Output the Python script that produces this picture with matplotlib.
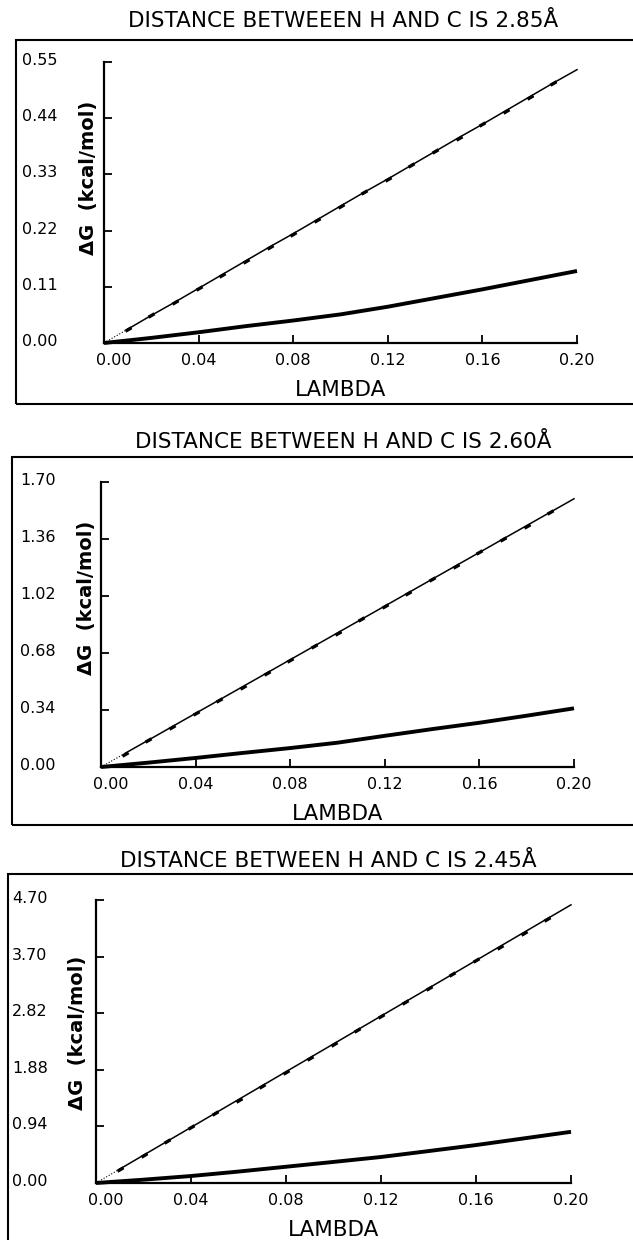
import math

import matplotlib.pyplot as plt
import matplotlib.transforms as mtransforms
from matplotlib.patches import Rectangle

plt.rcParams['font.family'] = ['DejaVu Sans']

# lambda grid of the upper (marked) curves, step 0.01
lam_fine = [0.00, 0.01, 0.02, 0.03, 0.04, 0.05, 0.06, 0.07, 0.08, 0.09, 0.10,
            0.11, 0.12, 0.13, 0.14, 0.15, 0.16, 0.17, 0.18, 0.19, 0.20]
# lambda grid of the lower (thick) curves
lam_coarse = [0.00, 0.02, 0.04, 0.06, 0.08, 0.10, 0.12, 0.14, 0.16, 0.18, 0.20]

titles = ["DISTANCE BETWEEEN H AND C IS 2.85Å",
          "DISTANCE BETWEEN H AND C IS 2.60Å",
          "DISTANCE BETWEEN H AND C IS 2.45Å"]

upper_285 = [0.000, 0.027, 0.054, 0.080, 0.107, 0.134, 0.161, 0.188, 0.214, 0.241, 0.268,
             0.295, 0.321, 0.348, 0.375, 0.402, 0.428, 0.455, 0.482, 0.509, 0.535]
lower_285 = [0.000, 0.010, 0.021, 0.033, 0.044, 0.056, 0.071, 0.088, 0.105, 0.123, 0.141]

upper_260 = [0.00, 0.08, 0.16, 0.24, 0.32, 0.40, 0.48, 0.56, 0.64, 0.72, 0.80,
             0.88, 0.96, 1.04, 1.12, 1.20, 1.28, 1.36, 1.44, 1.52, 1.60]
lower_260 = [0.000, 0.026, 0.054, 0.084, 0.113, 0.145, 0.186, 0.226, 0.264, 0.306, 0.350]

upper_245 = [0.000, 0.231, 0.462, 0.693, 0.924, 1.155, 1.386, 1.617, 1.848, 2.079, 2.310,
             2.541, 2.772, 3.003, 3.234, 3.465, 3.696, 3.927, 4.158, 4.389, 4.620]
lower_245 = [0.000, 0.055, 0.116, 0.190, 0.270, 0.350, 0.432, 0.530, 0.630, 0.740, 0.850]

xticks = [0.00, 0.04, 0.08, 0.12, 0.16, 0.20]
xticklabels = ["0.00", "0.04", "0.08", "0.12", "0.16", "0.20"]

yticks_285 = [0.00, 0.11, 0.22, 0.33, 0.44, 0.55]
ylabels_285 = ["0.00", "0.11", "0.22", "0.33", "0.44", "0.55"]
yticks_260 = [0.00, 0.34, 0.68, 1.02, 1.36, 1.70]
ylabels_260 = ["0.00", "0.34", "0.68", "1.02", "1.36", "1.70"]
yticks_245 = [0.00, 0.94, 1.88, 2.82, 3.76, 4.70]
ylabels_245 = ["0.00", "0.94", "1.88", "2.82", "3.70", "4.70"]

W, H = 633, 1240
fig = plt.figure(figsize=(W / 100, H / 100), dpi=100)

# pixel layout of each panel: axes box, outer frame, title, y-label
panels = [
    dict(ax=(104, 62, 577, 343), frame=(16, 40, 640, 404), title=(343, 21),
         ylab=(-0.032, 0.587), ypad=82, up=upper_285, lo=lower_285,
         yt=yticks_285, yl=ylabels_285),
    dict(ax=(101, 482, 574, 767), frame=(12, 457, 640, 825), title=(343, 442),
         ylab=(-0.030, 0.593), ypad=81, up=upper_260, lo=lower_260,
         yt=yticks_260, yl=ylabels_260),
    dict(ax=(96, 900, 571, 1183), frame=(8, 874, 640, 1250), title=(328, 861),
         ylab=(-0.038, 0.530), ypad=84, up=upper_245, lo=lower_245,
         yt=yticks_245, yl=ylabels_245),
]

for p, title in zip(panels, titles):
    x0, y0, x1, y1 = p["ax"]
    ax = fig.add_axes([x0 / W, 1 - y1 / H, (x1 - x0) / W, (y1 - y0) / H])

    fx0, fy0, fx1, fy1 = p["frame"]
    fig.patches.append(Rectangle((fx0 / W, 1 - fy1 / H), (fx1 - fx0) / W, (fy1 - fy0) / H,
                                 transform=fig.transFigure, fill=False,
                                 edgecolor="black", linewidth=1.5))
    fig.text(p["title"][0] / W, 1 - p["title"][1] / H, title, ha="center", va="center",
             fontsize=15.5)

    up = p["up"]
    ymax = p["yt"][-1]
    # on-screen slope of the upper line, so the dash markers lie along it
    rise = up[-1] / ymax * (y1 - y0)
    run = (lam_fine[-1] / 0.2) * (x1 - x0)
    ang = math.degrees(math.atan2(rise, run))

    ax.plot(lam_fine[:2], up[:2], color="black", lw=0.8, ls=":", clip_on=False)
    ax.plot(lam_fine[1:], up[1:], color="black", lw=1.1, clip_on=False)
    ax.plot(lam_fine[1:-1], up[1:-1], ls="none", marker=(2, 0, ang - 90), ms=5,
            mew=2.4, color="black", clip_on=False)
    ax.plot(lam_coarse, p["lo"], color="black", lw=2.8, solid_capstyle="butt",
            clip_on=False)

    ax.set_xlim(0, 0.2)
    ax.set_ylim(0, ymax)
    for s in ["top", "right"]:
        ax.spines[s].set_visible(False)
    for s in ["left", "bottom"]:
        ax.spines[s].set_linewidth(1.6)

    ax.set_xticks(xticks)
    ax.set_xticklabels(xticklabels)
    ax.set_yticks(p["yt"])
    ax.set_yticklabels(p["yl"])
    ax.tick_params(direction="in", length=6, width=1.3, labelsize=11.5)
    ax.tick_params(axis="x", pad=7)
    ax.tick_params(axis="y", pad=p["ypad"] * 0.72)
    up_shift = mtransforms.ScaledTranslation(0, 3 / 100, fig.dpi_scale_trans)
    for lab in ax.get_yticklabels():
        lab.set_horizontalalignment("left")
        lab.set_transform(lab.get_transform() + up_shift)
    right_shift = mtransforms.ScaledTranslation(10 / 100, 0, fig.dpi_scale_trans)
    first = ax.get_xticklabels()[0]
    first.set_transform(first.get_transform() + right_shift)

    ax.set_xlabel("LAMBDA", fontsize=15.5, va="center")
    ax.xaxis.set_label_coords(0.5, -47 / (y1 - y0))
    ax.set_ylabel("ΔG  (kcal/mol)", fontsize=14, fontweight="bold", va="center")
    ax.yaxis.set_label_coords(*p["ylab"])

fig.savefig("out.png", dpi=100)
